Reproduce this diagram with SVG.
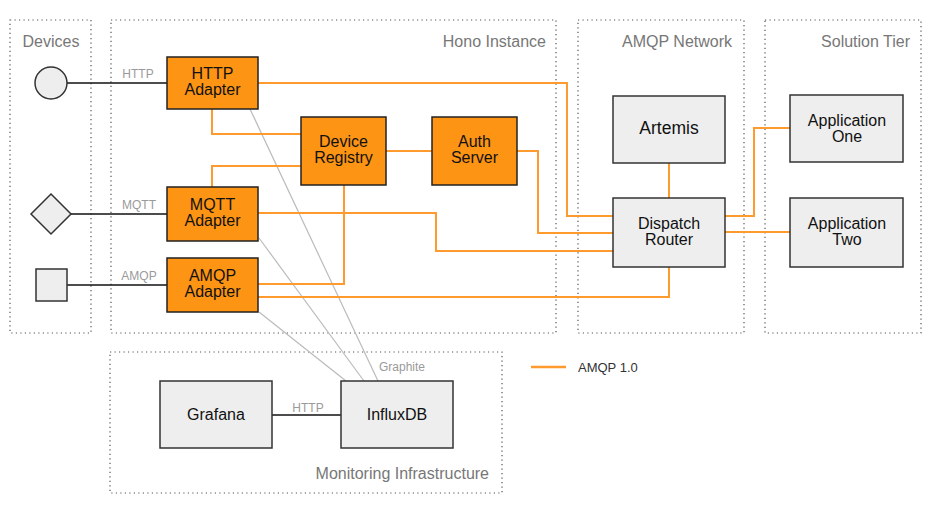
<svg xmlns="http://www.w3.org/2000/svg" width="939" height="514" viewBox="0 0 939 514">
<style>
.grp{fill:none;stroke:#555;stroke-width:1.2;stroke-dasharray:1.2 3.3}
.gl{font-family:"Liberation Sans",Arial,sans-serif;font-size:16px;fill:#777}
.nt{font-family:"Liberation Sans",Arial,sans-serif;font-size:16px;fill:#111;text-anchor:middle}
.cl{font-family:"Liberation Sans",Arial,sans-serif;font-size:12px;fill:#9a9a9a;text-anchor:middle}
.or{fill:#FD9414;stroke:#222;stroke-width:1.5}
.gy{fill:#EEEEEE;stroke:#333;stroke-width:1.5}
.ao{fill:none;stroke:#FF9A2E;stroke-width:2}
.bk{fill:none;stroke:#111;stroke-width:1.3}
.gr{fill:none;stroke:#bbb;stroke-width:1.2}
</style>
<rect width="939" height="514" fill="#fff"/>
<g id="groups">
<rect class="grp" x="10" y="20" width="81" height="313"/>
<text class="gl" x="51" y="46.5" text-anchor="middle">Devices</text>
<rect class="grp" x="111" y="20" width="445" height="313"/>
<text class="gl" x="546" y="47" text-anchor="end">Hono Instance</text>
<rect class="grp" x="578" y="20" width="166" height="313"/>
<text class="gl" x="732" y="46.5" text-anchor="end">AMQP Network</text>
<rect class="grp" x="765" y="20" width="156" height="313"/>
<text class="gl" x="910" y="46.5" text-anchor="end">Solution Tier</text>
<rect class="grp" x="110" y="352" width="392" height="141"/>
<text class="gl" x="489" y="478.5" text-anchor="end">Monitoring Infrastructure</text>
</g>
<g id="connectors">
<path class="gr" d="M250,109 L378,381"/>
<path class="gr" d="M259,238 L364,381"/>
<path class="gr" d="M259,312 L346,381"/>
<path class="bk" d="M67,83 H167"/>
<path class="bk" d="M71,214 H167"/>
<path class="bk" d="M67,285 H167"/>
<path class="bk" d="M272,415 H341"/>
<path class="ao" d="M258,83 H567 V216 H613"/>
<path class="ao" d="M212,109 V134 H301"/>
<path class="ao" d="M212,187 V166 H301"/>
<path class="ao" d="M386,151 H432"/>
<path class="ao" d="M517,151 H538 V233 H613"/>
<path class="ao" d="M258,213 H436 V251 H613"/>
<path class="ao" d="M258,284 H344 V185"/>
<path class="ao" d="M258,297 H669 V267"/>
<path class="ao" d="M669,163 V198"/>
<path class="ao" d="M725,216 H754 V128 H790"/>
<path class="ao" d="M725,232 H790"/>
<text class="cl" x="138" y="77.5">HTTP</text>
<text class="cl" x="139" y="208.5">MQTT</text>
<text class="cl" x="139" y="280">AMQP</text>
<text class="cl" x="308" y="411.5">HTTP</text>
<text class="cl" x="402" y="371">Graphite</text>
</g>
<g id="legend">
<path d="M531,367 H566" stroke="#FF9A2E" stroke-width="2.5"/>
<text x="578" y="372" font-family="'Liberation Sans',Arial,sans-serif" font-size="13px" fill="#333">AMQP 1.0</text>
</g>
<g id="device-http"><circle class="gy" cx="51" cy="83" r="16"/></g>
<g id="device-mqtt"><path class="gy" d="M51,194 L71,214 L51,234 L31,214 Z"/></g>
<g id="device-amqp"><rect class="gy" x="36" y="269" width="31" height="32"/></g>
<g id="http-adapter"><rect class="or" x="167" y="57" width="91" height="52"/><text class="nt" x="212.5" y="79">HTTP</text><text class="nt" x="212.5" y="95">Adapter</text></g>
<g id="mqtt-adapter"><rect class="or" x="167" y="187" width="91" height="54"/><text class="nt" x="212.5" y="210">MQTT</text><text class="nt" x="212.5" y="226">Adapter</text></g>
<g id="amqp-adapter"><rect class="or" x="167" y="258" width="91" height="54"/><text class="nt" x="212.5" y="281">AMQP</text><text class="nt" x="212.5" y="297">Adapter</text></g>
<g id="device-registry"><rect class="or" x="301" y="117" width="85" height="68"/><text class="nt" x="343.5" y="147">Device</text><text class="nt" x="343.5" y="163">Registry</text></g>
<g id="auth-server"><rect class="or" x="432" y="117" width="85" height="68"/><text class="nt" x="474.5" y="147">Auth</text><text class="nt" x="474.5" y="163">Server</text></g>
<g id="artemis"><rect class="gy" x="613" y="96" width="112" height="67"/><text class="nt" x="669" y="133.5" style="font-size:17.5px">Artemis</text></g>
<g id="dispatch-router"><rect class="gy" x="613" y="198" width="112" height="69"/><text class="nt" x="669" y="229">Dispatch</text><text class="nt" x="669" y="245">Router</text></g>
<g id="application-one"><rect class="gy" x="790" y="95" width="113" height="67"/><text class="nt" x="847" y="126">Application</text><text class="nt" x="847" y="142">One</text></g>
<g id="application-two"><rect class="gy" x="790" y="198" width="113" height="69"/><text class="nt" x="847" y="229">Application</text><text class="nt" x="847" y="245">Two</text></g>
<g id="grafana"><rect class="gy" x="160" y="381" width="112" height="67"/><text class="nt" x="216" y="420">Grafana</text></g>
<g id="influxdb"><rect class="gy" x="341" y="381" width="112" height="67"/><text class="nt" x="397" y="420">InfluxDB</text></g>
</svg>
